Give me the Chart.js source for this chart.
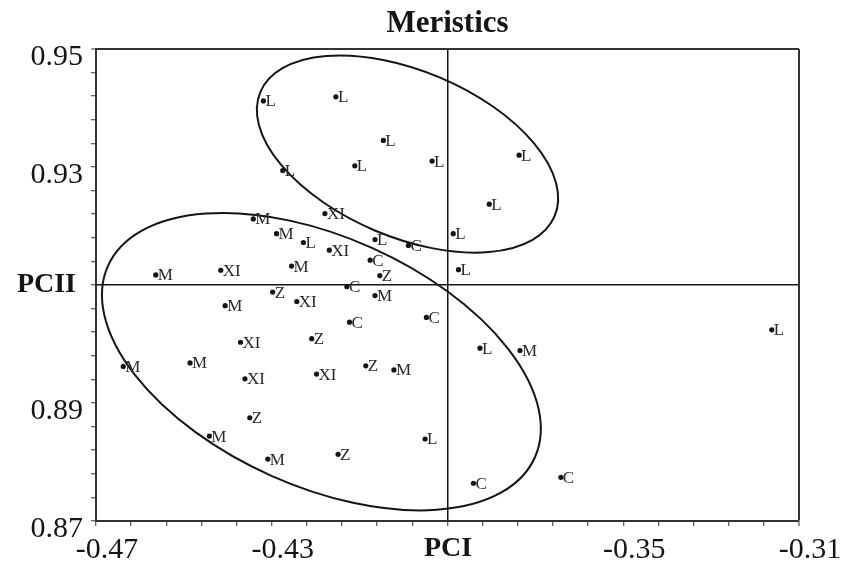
<!DOCTYPE html>
<html>
<head>
<meta charset="utf-8">
<title>Meristics</title>
<script src="https://cdn.jsdelivr.net/npm/chart.js@4/dist/chart.umd.min.js"></script>
<style>
    html, body { margin: 0; padding: 0; background: #fff; }
    #wrap { width: 848px; height: 577px; }
</style>
</head>
<body>
<div id="wrap"><canvas id="meristics"></canvas></div>
<script>
// PCA scores, one pair of arrays per group (PCI, PCII)
var lPCI  = [-0.4319, -0.4154, -0.4046, -0.4111, -0.3935, -0.4275, -0.4228, -0.4065, -0.3887, -0.3875, -0.3737, -0.3805, -0.3951, -0.3162, -0.3826];
var lPCII = [0.9412, 0.9419, 0.9345, 0.9302, 0.9310, 0.9294, 0.9172, 0.9177, 0.9187, 0.9126, 0.9320, 0.9237, 0.8839, 0.9024, 0.8993];

var mPCI  = [-0.4342, -0.4289, -0.4255, -0.4564, -0.4406, -0.4065, -0.4638, -0.4486, -0.4022, -0.4442, -0.4309, -0.3735];
var mPCII = [0.9212, 0.9187, 0.9132, 0.9117, 0.9065, 0.9082, 0.8962, 0.8968, 0.8956, 0.8844, 0.8805, 0.8989];

var xiPCI  = [-0.4179, -0.4169, -0.4416, -0.4243, -0.4371, -0.4361, -0.4198];
var xiPCII = [0.9221, 0.9159, 0.9125, 0.9072, 0.9003, 0.8941, 0.8949];

var cPCI  = [-0.3989, -0.4076, -0.4129, -0.3948, -0.4123, -0.3841, -0.3642];
var cPCII = [0.9167, 0.9142, 0.9097, 0.9045, 0.9037, 0.8764, 0.8774];

var zPCI  = [-0.4054, -0.4298, -0.4209, -0.4086, -0.4350, -0.4149];
var zPCII = [0.9116, 0.9088, 0.9009, 0.8963, 0.8875, 0.8813];

var groupNames = ['L', 'M', 'XI', 'C', 'Z'];

// labelled ticks; the centre ones carry the axis names
var xMajor = [-0.47, -0.43, -0.39, -0.35, -0.31];
var yMajor = [0.87, 0.89, 0.91, 0.93, 0.95];
var minorPerMajor = 5;

// grouping ellipses: centre plus two conjugate half-axes (data units)
var ellipseCentre = [[-0.3991, 0.9322], [-0.4187, 0.8970]];
var ellipseAxisU  = [[0.0335, -0.0105], [0.0486, -0.0162]];
var ellipseAxisV  = [[-0.0073, -0.0130], [-0.0115, -0.0193]];

var SERIF = "'Liberation Serif', 'Times New Roman', serif";
var INK = '#151515';

function toPoints(xs, ys) {
    var pts = [];
    for (var i = 0; i < xs.length; i++) {
        pts.push({x: xs[i], y: ys[i]});
    }
    return pts;
}

function withMinor(majors) {
    var out = [];
    for (var i = 0; i < majors.length - 1; i++) {
        var step = (majors[i + 1] - majors[i]) / minorPerMajor;
        for (var k = 0; k < minorPerMajor; k++) {
            out.push({value: +(majors[i] + k * step).toFixed(4)});
        }
    }
    out.push({value: majors[majors.length - 1]});
    return out;
}

function isMajor(v, majors) {
    for (var i = 0; i < majors.length; i++) {
        if (Math.abs(majors[i] - v) < 1e-6) return true;
    }
    return false;
}

function near(a, b) {
    return Math.abs(a - b) < 1e-6;
}

var seriesX = [lPCI, mPCI, xiPCI, cPCI, zPCI];
var seriesY = [lPCII, mPCII, xiPCII, cPCII, zPCII];
var datasets = [];
for (var g = 0; g < groupNames.length; g++) {
    datasets.push({
        label: groupNames[g],
        data: toPoints(seriesX[g], seriesY[g]),
        pointRadius: 2.6,
        pointHoverRadius: 2.6,
        pointBackgroundColor: INK,
        pointBorderWidth: 0,
        showLine: false
    });
}

var ellipsePlugin = {
    id: 'ellipses',
    beforeDatasetsDraw: function (chart) {
        var ctx = chart.ctx, xs = chart.scales.x, ys = chart.scales.y;
        for (var i = 0; i < ellipseCentre.length; i++) {
            var c = ellipseCentre[i], u = ellipseAxisU[i], v = ellipseAxisV[i];
            var cx = xs.getPixelForValue(c[0]), cy = ys.getPixelForValue(c[1]);
            var ux = xs.getPixelForValue(c[0] + u[0]) - cx, uy = ys.getPixelForValue(c[1] + u[1]) - cy;
            var vx = xs.getPixelForValue(c[0] + v[0]) - cx, vy = ys.getPixelForValue(c[1] + v[1]) - cy;
            ctx.save();
            ctx.beginPath();
            ctx.transform(ux, uy, vx, vy, cx, cy);
            ctx.arc(0, 0, 1, 0, Math.PI * 2);
            ctx.restore();
            ctx.save();
            ctx.lineWidth = 2;
            ctx.strokeStyle = INK;
            ctx.stroke();
            ctx.restore();
        }
    }
};

var pointLabelPlugin = {
    id: 'pointLabels',
    afterDatasetsDraw: function (chart) {
        var ctx = chart.ctx;
        ctx.save();
        ctx.font = '17px ' + SERIF;
        ctx.fillStyle = '#2a2a2a';
        ctx.textAlign = 'left';
        ctx.textBaseline = 'middle';
        chart.data.datasets.forEach(function (ds, di) {
            chart.getDatasetMeta(di).data.forEach(function (pt) {
                ctx.fillText(ds.label, pt.x + 2, pt.y + 1);
            });
        });
        ctx.restore();
    }
};

var titlePlugin = {
    id: 'plotTitle',
    afterDraw: function (chart) {
        var ctx = chart.ctx, a = chart.chartArea;
        ctx.save();
        ctx.font = 'bold 31px ' + SERIF;
        ctx.fillStyle = INK;
        ctx.textAlign = 'center';
        ctx.textBaseline = 'alphabetic';
        ctx.fillText('Meristics', (a.left + a.right) / 2, 32);
        ctx.restore();
    }
};

new Chart(document.getElementById('meristics'), {
    type: 'scatter',
    data: {datasets: datasets},
    plugins: [ellipsePlugin, pointLabelPlugin, titlePlugin],
    options: {
        responsive: true,
        maintainAspectRatio: false,
        animation: false,
        layout: {padding: {top: 49, right: 49, left: 0, bottom: 0}},
        plugins: {
            legend: {display: false},
            tooltip: {enabled: false},
            title: {display: false}
        },
        scales: {
            x: {
                type: 'linear',
                min: xMajor[0],
                max: xMajor[xMajor.length - 1],
                afterBuildTicks: function (scale) { scale.ticks = withMinor(xMajor); },
                afterFit: function (scale) { scale.height = 56; },
                border: {display: true, color: '#333', width: 2},
                grid: {
                    drawOnChartArea: true,
                    tickLength: 5,
                    tickColor: '#333',
                    tickWidth: 1,
                    color: function (ctx) {
                        var v = ctx.tick && ctx.tick.value;
                        if (near(v, -0.39)) return INK;
                        if (near(v, -0.31)) return '#333';
                        return 'rgba(0,0,0,0)';
                    },
                    lineWidth: function (ctx) {
                        var v = ctx.tick && ctx.tick.value;
                        return near(v, -0.31) ? 2 : 1.5;
                    }
                },
                ticks: {
                    autoSkip: false,
                    maxRotation: 0,
                    padding: 6,
                    labelOffset: 11,
                    color: INK,
                    font: function (ctx) {
                        var bold = ctx.tick && near(ctx.tick.value, -0.39);
                        return {family: SERIF, size: bold ? 28 : 30, weight: bold ? 'bold' : 'normal'};
                    },
                    callback: function (value) {
                        if (!isMajor(value, xMajor)) return '';
                        // trailing spaces pull the axis name back over its tick
                        if (near(value, -0.39)) return 'PCI   ';
                        return value.toFixed(2);
                    }
                }
            },
            y: {
                type: 'linear',
                min: yMajor[0],
                max: yMajor[yMajor.length - 1],
                afterBuildTicks: function (scale) { scale.ticks = withMinor(yMajor); },
                afterFit: function (scale) { scale.width = 96; },
                border: {display: true, color: '#333', width: 2},
                grid: {
                    drawOnChartArea: true,
                    tickLength: 5,
                    tickColor: '#333',
                    tickWidth: 1,
                    color: function (ctx) {
                        var v = ctx.tick && ctx.tick.value;
                        if (near(v, 0.91)) return INK;
                        if (near(v, 0.95)) return '#333';
                        return 'rgba(0,0,0,0)';
                    },
                    lineWidth: function (ctx) {
                        var v = ctx.tick && ctx.tick.value;
                        return near(v, 0.95) ? 2 : 1.5;
                    }
                },
                ticks: {
                    autoSkip: false,
                    padding: 8,
                    labelOffset: 8,
                    color: INK,
                    font: function (ctx) {
                        var bold = ctx.tick && near(ctx.tick.value, 0.91);
                        // the two-line axis name is lifted by half its line height
                        return bold ? {family: SERIF, size: 28, weight: 'bold', lineHeight: '16px'}
                                    : {family: SERIF, size: 30, weight: 'normal'};
                    },
                    callback: function (value) {
                        if (!isMajor(value, yMajor)) return '';
                        if (near(value, 0.91)) return ['PCII ', ''];
                        return value.toFixed(2);
                    }
                }
            }
        }
    }
});
</script>
</body>
</html>
